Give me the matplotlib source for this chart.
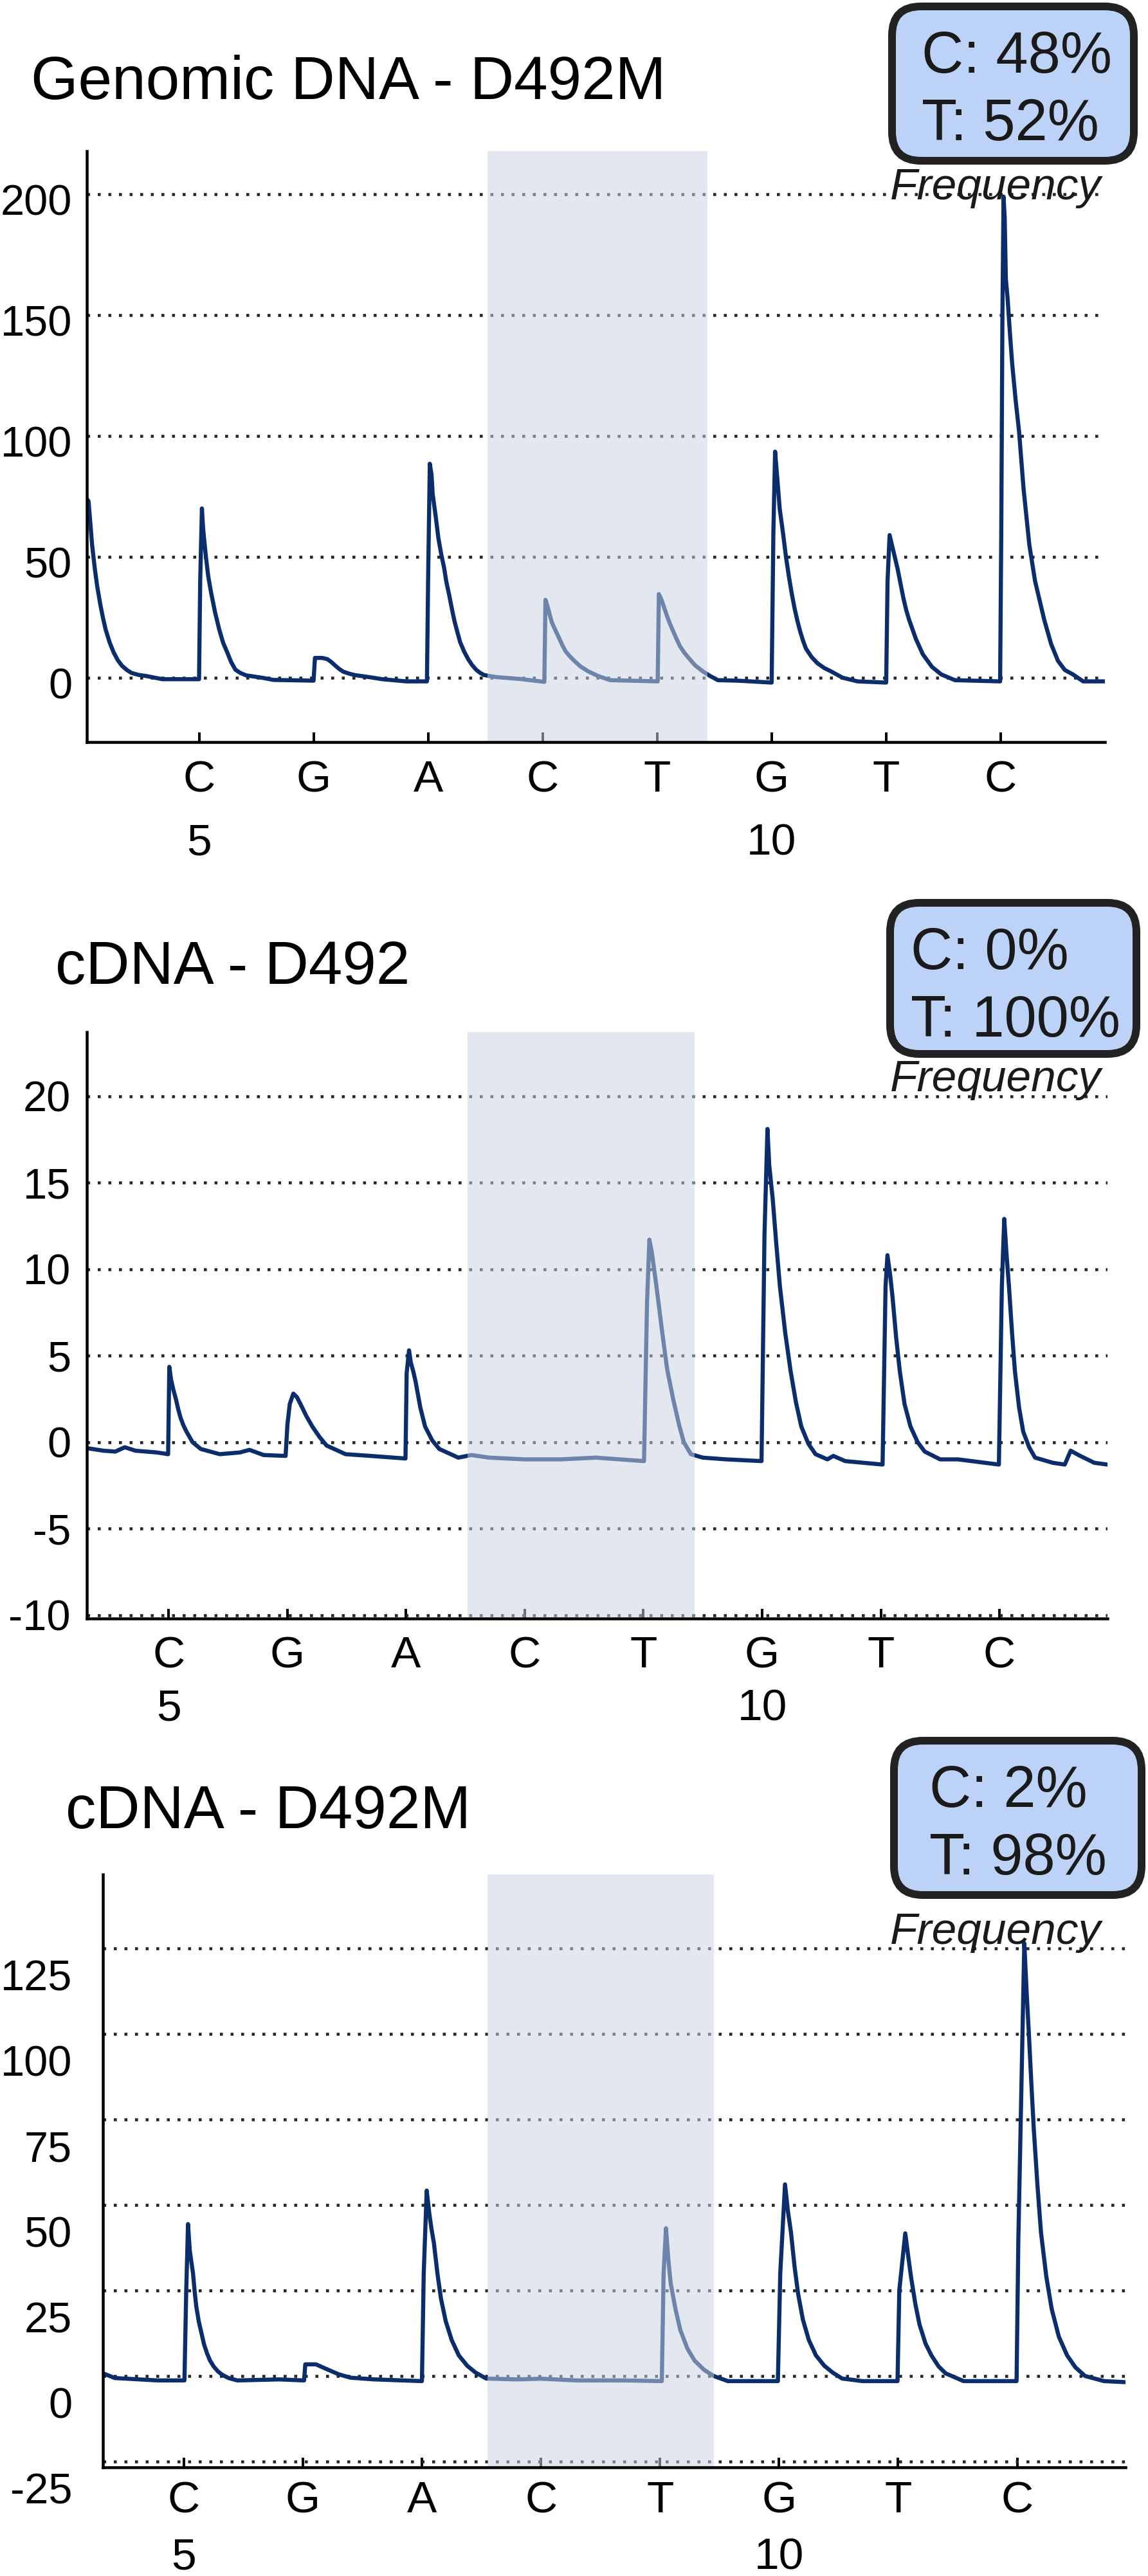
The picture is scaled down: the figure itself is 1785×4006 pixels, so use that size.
import numpy as np
import matplotlib.pyplot as plt
from matplotlib.patches import FancyBboxPatch
from matplotlib.transforms import ScaledTranslation, IdentityTransform

plt.rcParams['font.family'] = ['Liberation Sans', 'DejaVu Sans']

# --- data ---
bases = ['C', 'G', 'A', 'C', 'T', 'G', 'T', 'C']
base_pos = [5, 6, 7, 8, 9, 10, 11, 12]
pos_numbers = [5, 10]

titles = ['Genomic DNA - D492M', 'cDNA - D492', 'cDNA - D492M']
freq_c = ['C: 48%', 'C: 0%', 'C: 2%']
freq_t = ['T: 52%', 'T: 100%', 'T: 98%']

yticks_genomic = [0, 50, 100, 150, 200]
yticks_d492 = [-10, -5, 0, 5, 10, 15, 20]
yticks_d492m = [-25, 0, 25, 50, 75, 100, 125]

shade_genomic = (7.52, 9.44)
shade_d492 = (7.52, 9.43)
shade_d492m = (7.55, 9.45)

genomic_trace = [
    (4.02, 74), (4.035, 73), (4.047, 66), (4.066, 55), (4.09, 45), (4.11, 38), (4.137, 30.5),
    (4.16, 25), (4.184, 20), (4.22, 14.5), (4.255, 10.4), (4.29, 7.3), (4.326, 5), (4.37, 3.2),
    (4.41, 2), (4.47, 1.2), (4.54, 0.7), (4.68, -0.6), (5.0, -0.6),
    (5.01, 40), (5.025, 70), (5.035, 62), (5.045, 57), (5.06, 50), (5.08, 42), (5.106, 35),
    (5.14, 27), (5.176, 20), (5.21, 14.5), (5.247, 10.4), (5.28, 6.5), (5.318, 3.3), (5.36, 2),
    (5.41, 1), (5.55, 0), (5.65, -0.9), (6.0, -1.2),
    (6.012, 8.2), (6.075, 8.2), (6.12, 7.7), (6.155, 6.5), (6.19, 5), (6.225, 3.6), (6.26, 2.5),
    (6.31, 1.7), (6.36, 1.1), (6.48, 0.3), (6.6, -0.6), (6.81, -1.5), (6.99, -1.5),
    (7.0, 40), (7.015, 88.5), (7.03, 84), (7.04, 76), (7.067, 66.5), (7.09, 57.7), (7.115, 51),
    (7.14, 45.4), (7.16, 39.5), (7.185, 34), (7.21, 28), (7.23, 23.5), (7.255, 19), (7.28, 14.7),
    (7.315, 10.8), (7.35, 7.7), (7.385, 5.2), (7.42, 3.3), (7.455, 2), (7.49, 1.1), (7.59, 0.3),
    (7.8, -0.5), (8.015, -1.7),
    (8.025, 32.2), (8.04, 30), (8.06, 26.5), (8.08, 23), (8.11, 19.8), (8.14, 16.8), (8.17, 13.7),
    (8.2, 11), (8.235, 9), (8.27, 7.3), (8.33, 4.7), (8.4, 2.6), (8.48, 0.8), (8.59, -1),
    (9.005, -1.5),
    (9.015, 34.6), (9.04, 32), (9.065, 28.5), (9.09, 25), (9.115, 22), (9.14, 19.2), (9.17, 16),
    (9.2, 13), (9.235, 10.5), (9.27, 8.5), (9.33, 5.2), (9.4, 2.6), (9.46, 0.8), (9.53, -1),
    (9.7, -1.2), (10.0, -2),
    (10.015, 60), (10.03, 93.5), (10.045, 85), (10.07, 70), (10.1, 59.5), (10.125, 50),
    (10.15, 42), (10.175, 35), (10.2, 28.7), (10.225, 23.5), (10.25, 19), (10.275, 15.2),
    (10.3, 12), (10.35, 8.5), (10.4, 6), (10.46, 4), (10.52, 2.6), (10.62, 0), (10.75, -1.5),
    (11.0, -2),
    (11.012, 40), (11.03, 59), (11.05, 55), (11.075, 50), (11.1, 45), (11.125, 39), (11.15, 33),
    (11.175, 28), (11.2, 24), (11.26, 16), (11.32, 9.7), (11.4, 4.5), (11.48, 1.4), (11.6, -1),
    (11.995, -1.5),
    (12.005, 60), (12.015, 150), (12.025, 199), (12.035, 190), (12.045, 165), (12.06, 157),
    (12.08, 143), (12.1, 130), (12.13, 115), (12.16, 102), (12.2, 78), (12.25, 55), (12.3, 40),
    (12.38, 24), (12.44, 14), (12.5, 7), (12.56, 3.2), (12.63, 1.4), (12.72, -1.5), (12.91, -1.5),
]

d492_trace = [
    (4.31, -0.35), (4.45, -0.5), (4.55, -0.55), (4.63, -0.3), (4.72, -0.5), (4.9, -0.6), (4.995, -0.7),
    (5.005, 4.35), (5.02, 3.6), (5.04, 3.0), (5.06, 2.5), (5.08, 1.9), (5.1, 1.4), (5.125, 0.95),
    (5.15, 0.6), (5.2, 0.0), (5.27, -0.4), (5.43, -0.7),
    (5.6, -0.6), (5.68, -0.45), (5.8, -0.75), (5.985, -0.8),
    (6.0, 1.0), (6.02, 2.2), (6.05, 2.8), (6.08, 2.6), (6.11, 2.2), (6.16, 1.5), (6.21, 0.9),
    (6.27, 0.3), (6.33, -0.2), (6.49, -0.7), (6.7, -0.8), (6.995, -0.95),
    (7.005, 4.0), (7.025, 5.3), (7.04, 4.6), (7.06, 4.1), (7.08, 3.5), (7.12, 2.0), (7.16, 0.9),
    (7.22, 0.1), (7.28, -0.4), (7.44, -0.9),
    (7.55, -0.75), (7.7, -0.9), (8.0, -1.0), (8.3, -1.0), (8.6, -0.9), (8.8, -1.0), (9.005, -1.1),
    (9.03, 8.0), (9.05, 11.7), (9.07, 11.0), (9.1, 9.5), (9.13, 7.9), (9.157, 6.4), (9.2, 4.2),
    (9.25, 2.5), (9.3, 1.0), (9.34, 0.0), (9.4, -0.7), (9.5, -0.9), (9.7, -1.0), (9.995, -1.1),
    (10.02, 12.0), (10.045, 18.1), (10.06, 16.0), (10.09, 14.0), (10.12, 11.4), (10.15, 9.0),
    (10.195, 6.3), (10.24, 4.1), (10.285, 2.3), (10.33, 0.9), (10.39, -0.1), (10.45, -0.7),
    (10.55, -1.0), (10.6, -0.8), (10.7, -1.1), (11.015, -1.3),
    (11.04, 9.0), (11.056, 10.8), (11.08, 9.6), (11.1, 8.3), (11.13, 6.0), (11.16, 4.1),
    (11.2, 2.2), (11.25, 0.9), (11.31, 0.0), (11.37, -0.55), (11.5, -1.0), (11.65, -1.0),
    (11.995, -1.3),
    (12.02, 9.0), (12.04, 12.9), (12.06, 10.8), (12.08, 9.0), (12.105, 6.4), (12.13, 4.1),
    (12.165, 2.0), (12.2, 0.6), (12.25, -0.3), (12.3, -0.9), (12.45, -1.2), (12.55, -1.3),
    (12.6, -0.5), (12.68, -0.8), (12.8, -1.2), (12.91, -1.3),
]

d492m_trace = [
    (4.32, 0.8), (4.42, -0.6), (4.78, -1.3), (5.005, -1.3),
    (5.02, 25), (5.035, 44.4), (5.05, 36.6), (5.077, 30), (5.09, 25), (5.104, 20.4), (5.125, 16),
    (5.15, 12.2), (5.17, 9.2), (5.195, 6.6), (5.22, 4.5), (5.25, 2.8), (5.285, 1.4), (5.32, 0.4),
    (5.375, -0.6), (5.45, -1.3), (5.8, -1.0), (6.01, -1.3),
    (6.02, 3.4), (6.11, 3.4), (6.2, 2.0), (6.3, 0.5), (6.4, -0.5), (6.6, -1.0), (7.0, -1.5),
    (7.015, 30), (7.04, 54.2), (7.06, 48), (7.08, 43), (7.1, 39), (7.13, 30), (7.16, 22.6),
    (7.2, 16), (7.25, 10.5), (7.31, 6), (7.38, 3.0), (7.45, 1), (7.54, -0.75),
    (7.8, -1.0), (8.0, -0.8), (8.3, -1.3), (8.7, -1.3), (9.015, -1.5),
    (9.03, 30), (9.05, 43.2), (9.07, 34), (9.09, 27), (9.13, 19.5), (9.17, 13.5), (9.23, 8),
    (9.29, 4.5), (9.37, 1.8), (9.45, 0.0), (9.57, -1.5), (9.99, -1.5),
    (10.01, 30), (10.05, 56), (10.075, 48), (10.1, 42), (10.13, 32), (10.16, 24), (10.2, 16.5),
    (10.25, 10.5), (10.31, 6), (10.38, 3.0), (10.45, 1), (10.53, -0.75), (10.7, -1.5),
    (10.995, -1.5),
    (11.01, 25), (11.06, 41.7), (11.085, 35), (11.11, 28.6), (11.145, 21), (11.18, 15),
    (11.23, 9.5), (11.28, 6), (11.34, 2.8), (11.4, 0.75), (11.55, -1.5), (11.995, -1.5),
    (12.01, 40), (12.06, 126.5), (12.08, 112), (12.1, 99), (12.12, 85), (12.14, 72), (12.17, 56),
    (12.2, 42), (12.245, 29), (12.29, 19.6), (12.35, 11.5), (12.42, 6), (12.49, 2.5), (12.57, 0),
    (12.73, -1.5), (12.91, -1.8),
]

traces = [genomic_trace, d492_trace, d492m_trace]
ytick_sets = [yticks_genomic, yticks_d492, yticks_d492m]
shades = [shade_genomic, shade_d492, shade_d492m]

# --- layout (pixels of the 1785x4006 picture) ---
W, H = 1785, 4006
axes_px = [(135, 1718, 235, 1154), (135, 1722, 1605, 2517), (160, 1750, 2915, 3837)]
xlims = [(4.02, 12.91), (4.31, 12.91), (4.32, 12.91)]
ylims = [(-26.6, 217.8), (-10.2, 23.7), (-26.7, 146.6)]
title_px = [(48, 154), (86, 1530), (102, 2843)]
box_px = [(1387, 10, 1763, 250), (1384, 1404, 1767, 1639), (1390, 2707, 1775, 2947)]
text_x = [1433, 1416, 1445]
freq_base = [310, 1697, 3023]
ylab_pad = [23, 25, 48]
ylab_shift = [9, 0, 42]
xlab_pad = [27, 26, 20]
num_drop = [125, 108, 108]

LINE = '#0b2d6b'


def pt(v):
    return v * 0.72


fig = plt.figure(figsize=(W / 100, H / 100), dpi=100)

for i in range(3):
    l, r, t, b = axes_px[i]
    ax = fig.add_axes([l / W, 1 - b / H, (r - l) / W, (b - t) / H])
    tr = np.array(traces[i])
    ax.plot(tr[:, 0], tr[:, 1], color=LINE, lw=4.6, zorder=2)
    ax.axvspan(shades[i][0], shades[i][1], color='#cad3e3', alpha=0.53, lw=0, zorder=3)

    ax.set_xlim(*xlims[i])
    ax.set_ylim(*ylims[i])

    ax.set_yticks(ytick_sets[i])
    ax.set_yticklabels([str(v) for v in ytick_sets[i]])
    ax.yaxis.grid(True, color='#262626', linestyle=(0, (1, 2.6)), linewidth=3.3)
    ax.set_axisbelow(True)
    ax.tick_params(axis='y', length=0, pad=pt(ylab_pad[i]), labelsize=48)
    shift = ScaledTranslation(0, -ylab_shift[i] / 100, fig.dpi_scale_trans)
    for lab in ax.get_yticklabels():
        lab.set_transform(lab.get_transform() + shift)

    ax.set_xticks(base_pos)
    ax.set_xticklabels(bases)
    ax.tick_params(axis='x', direction='in', length=pt(15), width=pt(4),
                   pad=pt(xlab_pad[i]), labelsize=50)
    for n in pos_numbers:
        ax.annotate(str(n), xy=(n, 0), xycoords=('data', 'axes fraction'),
                    xytext=(0, -pt(num_drop[i])), textcoords='offset points',
                    ha='center', va='top', fontsize=50)

    for side in ['top', 'right']:
        ax.spines[side].set_visible(False)
    for side in ['left', 'bottom']:
        ax.spines[side].set_linewidth(pt(4.5))
        ax.spines[side].set_zorder(5)

    # title
    fig.text(title_px[i][0] / W, 1 - title_px[i][1] / H, titles[i],
             fontsize=68, ha='left', va='baseline')

    # frequency box
    x0, y0, x1, y1 = box_px[i]
    box = FancyBboxPatch((x0, H - y1), x1 - x0, y1 - y0,
                         boxstyle='round,pad=0,rounding_size=45',
                         transform=IdentityTransform(),
                         fc='#bcd3f7', ec='#222222', lw=pt(12))
    fig.add_artist(box)
    fig.text(text_x[i] / W, 1 - (y0 + 103) / H, freq_c[i], fontsize=65,
             ha='left', va='baseline', color='#1a1a1a')
    fig.text(text_x[i] / W, 1 - (y0 + 208) / H, freq_t[i], fontsize=65,
             ha='left', va='baseline', color='#1a1a1a')
    fig.text(1712 / W, 1 - freq_base[i] / H, 'Frequency', fontsize=50,
             style='italic', ha='right', va='baseline', color='#1a1a1a')

fig.savefig('out.png', dpi=100)
